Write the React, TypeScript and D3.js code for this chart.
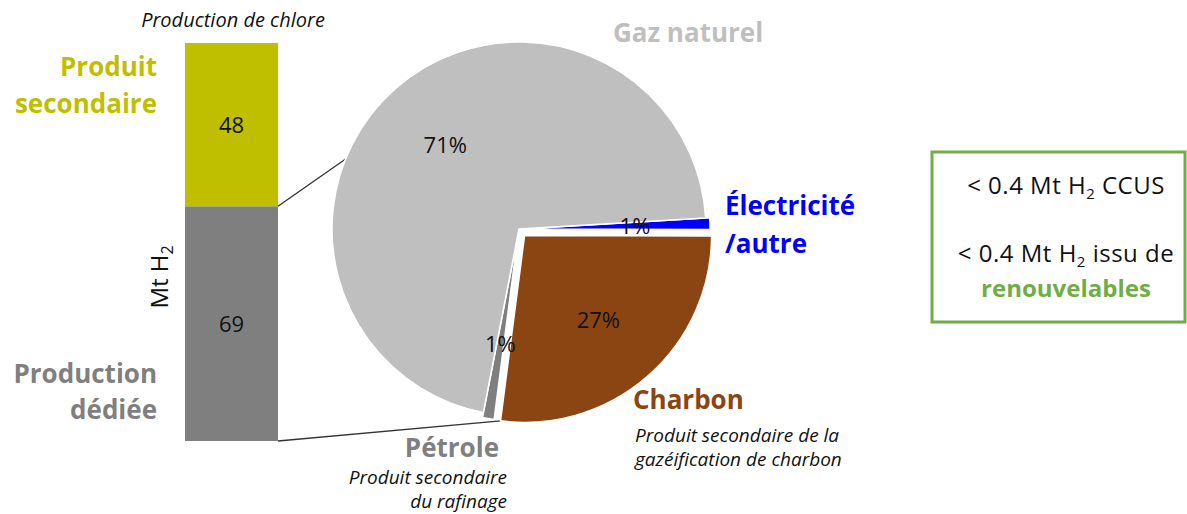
import React from "react";
import * as d3 from "d3";

// ---- data ----
const barCategories = ["Production dédiée", "Produit secondaire"];
const barValues = [69, 48];
const barColors = ["#7F7F7F", "#BFBF00"];

const pieCategories = ["Électricité/autre", "Charbon", "Pétrole", "Gaz naturel"];
const pieValues = [1, 27, 1, 71];
const pieLabels = ["1%", "27%", "1%", "71%"];
const pieColors = ["#0000FF", "#8B4513", "#7F7F7F", "#BFBFBF"];
const pieExplode = [4, 8.5, 5, 0];

const W = 1187;
const H = 514;
const FONT = "'Open Sans', sans-serif";
const DEG = Math.PI / 180;

export default function App() {
  // bar scales
  const x = d3.scaleBand<string>().domain(["H2"]).range([185, 278]).padding(0);
  const y = d3.scaleLinear().domain([0, d3.sum(barValues)]).range([441, 43]);
  const cum = d3.cumsum(barValues);
  const bars = barValues.map((v, i) => ({
    cat: barCategories[i],
    y0: cum[i] - v,
    y1: cum[i],
    color: barColors[i],
    v,
  }));

  // pie
  const cx = 519;
  const cy = 229;
  const R = 187;
  const start = 86.6 * DEG;
  const pie = d3
    .pie<number>()
    .sort(null)
    .value((d) => d)
    .startAngle(start)
    .endAngle(start + 2 * Math.PI);
  const arcs = pie(pieValues);
  const arc = d3.arc<d3.PieArcDatum<number>>().innerRadius(0).outerRadius(R);
  const offsetOf = (a: d3.PieArcDatum<number>, e: number) => {
    const m = (a.startAngle + a.endAngle) / 2;
    return [e * Math.sin(m), -e * Math.cos(m)];
  };
  const labelR = 112;

  // connectors
  const bx = (x("H2") as number) + x.bandwidth();
  const gasAngle = 292 * DEG;
  const topEnd = [cx + R * Math.sin(gasAngle), cy - R * Math.cos(gasAngle)];
  const coal = arcs[1];
  const [ox, oy] = offsetOf(coal, pieExplode[1]);
  const botEnd = [
    cx + ox + R * Math.sin(coal.endAngle),
    cy + oy - R * Math.cos(coal.endAngle),
  ];

  return (
    <svg
      width={W}
      height={H}
      style={{ position: "absolute", left: 0, top: 0, background: "#fff" }}
      fontFamily={FONT}
    >
      {/* bar */}
      {bars.map((b) => (
        <g key={b.cat}>
          <rect
            x={x("H2")}
            width={x.bandwidth()}
            y={y(b.y1)}
            height={y(b.y0) - y(b.y1)}
            fill={b.color}
          />
          <text
            x={(x("H2") as number) + x.bandwidth() / 2}
            y={(y(b.y0) + y(b.y1)) / 2}
            dy="0.36em"
            textAnchor="middle"
            fontSize={22}
            fill="#111"
          >
            {b.v}
          </text>
        </g>
      ))}
      <text x={233} y={27} textAnchor="middle" fontSize={20} fontStyle="italic" fill="#111">
        Production de chlore
      </text>
      <text transform="translate(168,277) rotate(-90)" textAnchor="middle" fontSize={24} fill="#111">
        Mt H<tspan fontSize={16} dy={5}>2</tspan>
      </text>
      <g fontWeight="bold" fontSize={26} textAnchor="end">
        <text x={157} y={76} fill="#BFBF00">Produit</text>
        <text x={157} y={113} fill="#BFBF00">secondaire</text>
        <text x={157} y={383} fill="#7F7F7F">Production</text>
        <text x={157} y={419} fill="#7F7F7F">dédiée</text>
      </g>

      {/* connectors */}
      <line x1={bx} y1={y(barValues[0])} x2={topEnd[0]} y2={topEnd[1]} stroke="#333" strokeWidth={1.3} />
      <line x1={bx} y1={y(0)} x2={botEnd[0]} y2={botEnd[1]} stroke="#333" strokeWidth={1.3} />

      {/* pie */}
      {arcs.map((a, i) => {
        const [dx, dy] = offsetOf(a, pieExplode[i]);
        return (
          <g key={pieCategories[i]} transform={`translate(${cx + dx},${cy + dy})`}>
            <path d={arc(a) || ""} fill={pieColors[i]} stroke="#fff" strokeWidth={1.5} strokeLinejoin="round" />
          </g>
        );
      })}
      {arcs.map((a, i) => {
        const [dx, dy] = offsetOf(a, pieExplode[i]);
        const m = (a.startAngle + a.endAngle) / 2;
        return (
          <text
            key={"l" + i}
            x={cx + dx + labelR * Math.sin(m)}
            y={cy + dy - labelR * Math.cos(m)}
            dy="0.36em"
            textAnchor="middle"
            fontSize={22}
            fill="#111"
          >
            {pieLabels[i]}
          </text>
        );
      })}

      {/* pie category labels */}
      <g fontWeight="bold" fontSize={26}>
        <text x={688} y={42} textAnchor="middle" fill="#BFBFBF">Gaz naturel</text>
        <text x={725} y={215} fill="#0000FF">Électricité</text>
        <text x={725} y={253} fill="#0000FF">/autre</text>
        <text x={633} y={409} fill="#8B4513">Charbon</text>
        <text x={499} y={457} textAnchor="end" fill="#808080">Pétrole</text>
      </g>
      <g fontStyle="italic" fontSize={19} fill="#111">
        <text x={635} y={442}>Produit secondaire de la</text>
        <text x={635} y={466}>gazéification de charbon</text>
        <text x={507} y={484} textAnchor="end">Produit secondaire</text>
        <text x={507} y={508} textAnchor="end">du rafinage</text>
      </g>

      {/* info box */}
      <rect x={932} y={152} width={253} height={170} fill="none" stroke="#70AD47" strokeWidth={3} />
      <g fontSize={24} textAnchor="middle" fill="#111" letterSpacing={0.5}>
        <text x={1066} y={194}>
          {"< 0.4 Mt H"}
          <tspan fontSize={15} dy={5}>2</tspan>
          <tspan dy={-5}>{" CCUS"}</tspan>
        </text>
        <text x={1066} y={262}>
          {"< 0.4 Mt H"}
          <tspan fontSize={15} dy={5}>2</tspan>
          <tspan dy={-5}>{" issu de"}</tspan>
        </text>
        <text x={1066} y={297} fontWeight="bold" fill="#70AD47" letterSpacing={0}>renouvelables</text>
      </g>
    </svg>
  );
}
